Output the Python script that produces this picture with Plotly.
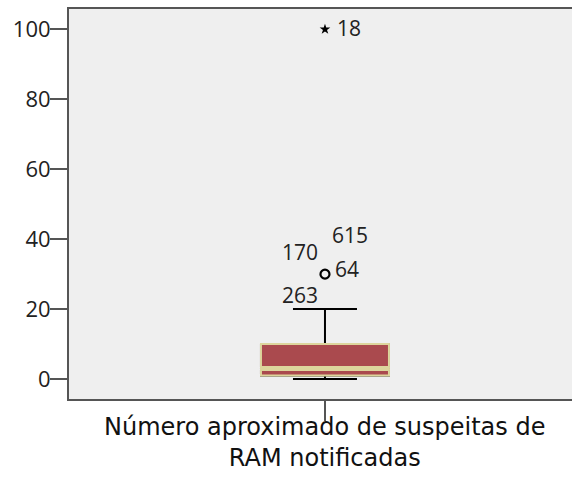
import plotly.graph_objects as go

# Summary statistics of the box plot
category = ["Número aproximado de suspeitas de<br>RAM notificadas"]
lower_whisker = [0]
q1 = [1]
median = [3]
q3 = [10]
upper_whisker = [20]

# Outliers (circle) and extreme values (star) with their case numbers
outlier_values = [30]
outlier_cases = ["170", "615", "64", "263"]
extreme_values = [100]
extreme_cases = ["18"]

BOX_FILL = "#aa4a4e"
BOX_EDGE = "#ddd59c"
AXIS_COLOR = "#555555"
FONT = "Open Sans"
TITLE_FONT = "DejaVu Sans"

fig = go.Figure()

# Whiskers and caps (black)
fig.add_trace(go.Box(
    x=[0], q1=q1, median=median, q3=q3,
    lowerfence=lower_whisker, upperfence=upper_whisker,
    width=0.5, whiskerwidth=0.5,
    line=dict(color="black", width=2),
    fillcolor=BOX_FILL, boxpoints=False, hoverinfo="skip",
    showlegend=False,
))
# Box body with light edge
fig.add_trace(go.Box(
    x=[0], q1=q1, median=median, q3=q3,
    lowerfence=q1, upperfence=q3,
    width=0.5, whiskerwidth=0,
    line=dict(color=BOX_EDGE, width=2),
    fillcolor=BOX_FILL, boxpoints=False, hoverinfo="skip",
    showlegend=False,
))
# Median band
fig.add_trace(go.Scatter(
    x=[-0.25, 0.25], y=[median[0], median[0]],
    mode="lines", line=dict(color=BOX_EDGE, width=5),
    hoverinfo="skip", showlegend=False,
))
# Outlier circle
fig.add_trace(go.Scatter(
    x=[0] * len(outlier_values), y=outlier_values, mode="markers",
    marker=dict(symbol="circle-open", size=9, color="black",
                line=dict(width=2.2, color="black")),
    showlegend=False,
))
# Extreme star
fig.add_trace(go.Scatter(
    x=[0] * len(extreme_values), y=extreme_values, mode="markers",
    marker=dict(symbol="star", size=8, color="black"),
    showlegend=False,
))

# Case labels around the outlier point
outlier_offsets = [(-25, 22), (25, 39), (22, 5), (-25, -21)]
for case, (dx, dy) in zip(outlier_cases, outlier_offsets):
    fig.add_annotation(x=0, y=outlier_values[0], text=case, showarrow=False,
                       xshift=dx, yshift=dy,
                       font=dict(family=FONT, size=21, color="#222222"))
for case in extreme_cases:
    fig.add_annotation(x=0, y=extreme_values[0], text=case, showarrow=False,
                       xshift=24, yshift=1,
                       font=dict(family=FONT, size=21, color="#222222"))

# Category label under the x tick
fig.add_annotation(x=0, xref="x", y=-0.112, yref="paper", text=category[0],
                   showarrow=False, xanchor="center", yanchor="middle",
                   align="center",
                   font=dict(family=TITLE_FONT, size=24, color="#111111"))

fig.update_layout(
    width=572, height=483,
    margin=dict(l=69, r=0, t=9, b=84),
    paper_bgcolor="white",
    plot_bgcolor="#efefef",
    boxmode="overlay",
    font=dict(family=FONT, color="#222222"),
    xaxis=dict(
        range=[-1.0, 0.965], tickvals=[0], ticktext=[""],
        ticks="outside", ticklen=20, tickwidth=2, tickcolor=AXIS_COLOR,
        showgrid=False, zeroline=False,
        showline=True, linecolor=AXIS_COLOR, linewidth=2, mirror=True,
    ),
    yaxis=dict(
        range=[-5.7, 105.8], tickvals=[0, 20, 40, 60, 80, 100],
        ticks="outside", ticklen=17, tickwidth=2, tickcolor=AXIS_COLOR,
        ticklabelstandoff=-5,
        showgrid=False, zeroline=False,
        showline=True, linecolor=AXIS_COLOR, linewidth=2,
        tickfont=dict(family=FONT, size=22, color="#222222"),
    ),
)

fig.write_html("out.html")
